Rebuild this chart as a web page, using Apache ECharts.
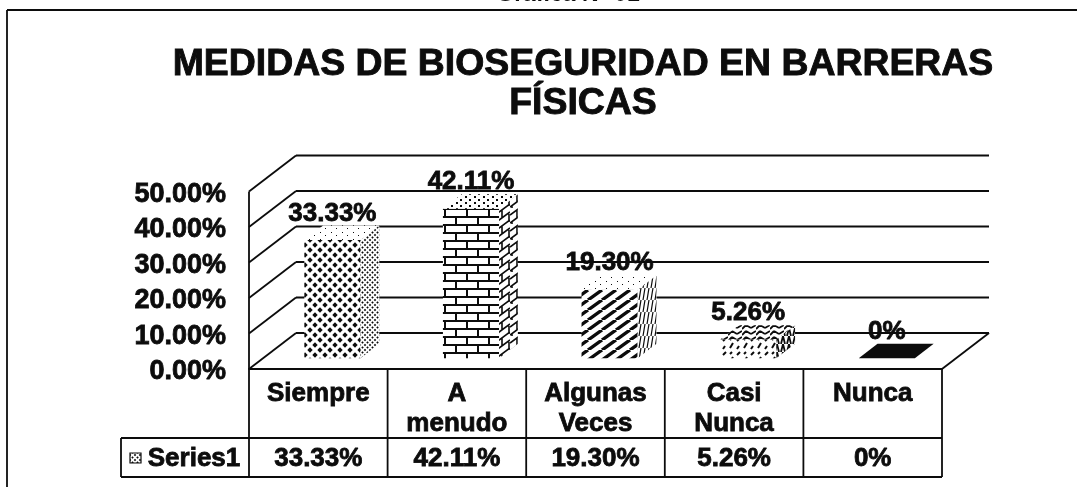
<!DOCTYPE html>
<html><head><meta charset="utf-8">
<style>html,body{margin:0;padding:0;background:#fff}#c{width:1077px;height:487px}</style>
<script src="https://cdn.jsdelivr.net/npm/echarts@6/dist/echarts.min.js"></script>
</head><body><div id="c"></div>
<script>
const chartTitle = 'MEDIDAS DE BIOSEGURIDAD EN BARRERAS\nFÍSICAS';
const pageHeading = 'Gráfica N° 01';
const categories = ['Siempre', 'A\nmenudo', 'Algunas\nVeces', 'Casi\nNunca', 'Nunca'];
const seriesName = 'Series1';
const values = [33.33, 42.11, 19.30, 5.26, 0];
const valueLabels = ['33.33%', '42.11%', '19.30%', '5.26%', '0%'];
const yTicks = [0, 10, 20, 30, 40, 50];

const INK = '#0c0c0c';
const FONT = '"Liberation Sans", Arial, sans-serif';

function tile(w, h, draw) {
  const c = document.createElement('canvas'); c.width = w; c.height = h;
  const g = c.getContext('2d');
  g.fillStyle = '#fff'; g.fillRect(0, 0, w, h);
  g.strokeStyle = INK; g.fillStyle = INK; draw(g);
  return { image: c, repeat: 'repeat' };
}
function seg(g, lw, pts) {
  g.lineWidth = lw; g.beginPath();
  pts.forEach(p => { g.moveTo(p[0], p[1]); g.lineTo(p[2], p[3]); });
  g.stroke();
}
function diamonds(g, s, k) {
  [[s/2, s/2], [0, 0], [s, 0], [0, s], [s, s]].forEach(p => {
    g.beginPath(); g.moveTo(p[0]-s*k, p[1]); g.lineTo(p[0], p[1]-s*k);
    g.lineTo(p[0]+s*k, p[1]); g.lineTo(p[0], p[1]+s*k); g.closePath(); g.fill();
  });
}
function specks(g, size, pts) { pts.forEach(p => g.fillRect(p[0], p[1], size, size)); }

const latticeFront = tile(10, 10, g => diamonds(g, 10, 0.27));
const latticeSide  = tile(5, 5, g => diamonds(g, 5, 0.25));
const lightTop     = tile(11, 7, g => specks(g, 1, [[1, 1], [6, 4]]));
const brickFront = tile(22, 16, g => seg(g, 2, [
  [0,1,22,1],[0,9,22,9],[5,1,5,9],[16,9,16,16],[16,0,16,1]]));
const brickSide = tile(15, 16, g => seg(g, 1.6, [
  [0,7,15,-4],[0,15,15,4],[0,23,15,12],[7,2,7,10],[14,6,14,14],[2,13,2,21]]));
const dotTop = tile(9, 6, g => specks(g, 2, [[1, 1], [6, 4]]));
const stripeFront = tile(14, 10, g => seg(g, 3.4, [
  [-14,10,0,0],[0,10,14,0],[14,10,28,0]]));
const stripeSide = tile(4, 12, g => seg(g, 1.2, [[-1,12,1,0],[3,12,5,0]]));
const dashFront = tile(14, 14, g => seg(g, 2, [[2,12,5,7],[9,5,12,2],[9,13,11,10],[2,4,4,2]]));
const zigSide = tile(6, 8, g => seg(g, 1.8, [[1,8,3,0],[5,8,3,0]]));
const zigTop = tile(14, 6, g => seg(g, 1.8, [[0,5,4,1],[4,1,9,4],[9,4,14,1]]));

const facePatterns = [
  { front: latticeFront, side: latticeSide, top: lightTop },
  { front: brickFront, side: brickSide, top: dotTop },
  { front: stripeFront, side: stripeSide, top: lightTop },
  { front: dashFront, side: zigSide, top: zigTop },
  { front: INK, side: INK, top: INK }
];

const DEPTH_X = 47, DEPTH_Y = 36;
const NEAR = 0.3, FAR = 0.7;
const BAR_FRACTION = 0.405;
const LINE = { stroke: INK, lineWidth: 1.8, fill: null };

function line(x1, y1, x2, y2) {
  return { type: 'line', shape: { x1, y1, x2, y2 }, style: LINE, silent: true };
}
function poly(points, fill) {
  return { type: 'polygon', shape: { points }, style: { fill, stroke: null }, silent: true };
}
function label(text, x, y) {
  return { type: 'text', silent: true, z2: 20, style: {
    text, x, y, align: 'center', verticalAlign: 'middle', fill: INK,
    font: 'bold 26px ' + FONT, stroke: INK, lineWidth: 0.8 } };
}

function renderWall(params, api) {
  const cs = params.coordSys, v = api.value(0);
  const y = api.coord([0, v])[1];
  const left = cs.x, right = cs.x + cs.width;
  const kids = [ line(left, y, left + DEPTH_X, y - DEPTH_Y),
                 line(left + DEPTH_X, y - DEPTH_Y, right + DEPTH_X, y - DEPTH_Y) ];
  if (v === 0) kids.push(line(right, y, right + DEPTH_X, y - DEPTH_Y));
  if (v === yTicks[yTicks.length - 1]) kids.push(line(left, y, left, api.coord([0, 0])[1]));
  return { type: 'group', children: kids };
}

function renderBar(params, api) {
  const i = api.value(0), v = api.value(1);
  const band = api.size([1, 0])[0], w = band * BAR_FRACTION;
  const base = api.coord([i, 0]), top = api.coord([i, v]);
  const x0 = base[0] - w / 2 + NEAR * DEPTH_X, x1 = x0 + w;
  const yB = base[1] - NEAR * DEPTH_Y, yT = top[1] - NEAR * DEPTH_Y;
  const dx = (FAR - NEAR) * DEPTH_X, dy = (FAR - NEAR) * DEPTH_Y;
  const p = facePatterns[params.dataIndex];
  return { type: 'group', children: [
    poly([[x0, yB], [x1, yB], [x1, yT], [x0, yT]], p.front),
    poly([[x1, yB], [x1 + dx, yB - dy], [x1 + dx, yT - dy], [x1, yT]], p.side),
    poly([[x0, yT], [x1, yT], [x1 + dx, yT - dy], [x0 + dx, yT - dy]], p.top),
    label(valueLabels[params.dataIndex], x0 + w / 2, yT - dy - 12)
  ]};
}

function renderTable(params, api) {
  const cs = params.coordSys, band = api.size([1, 0])[0];
  const floor = cs.y + cs.height, left = cs.x, right = cs.x + cs.width;
  const rowTop = floor + 69, rowBottom = floor + 108, keyLeft = left - 128;
  const kids = [
    line(keyLeft, rowTop, right, rowTop), line(keyLeft, rowBottom, right, rowBottom),
    line(keyLeft, rowTop, keyLeft, rowBottom),
    line(7, 10, 1077, 10), line(7, 10, 7, 487)
  ];
  for (let k = 0; k <= categories.length; k++) {
    const x = left + k * band;
    kids.push(line(x, floor, x, rowBottom));
  }
  categories.forEach((_, k) => kids.push(label(valueLabels[k], left + (k + .5) * band, rowTop + 21)));
  kids.push({ type: 'rect', shape: { x: keyLeft + 9, y: rowTop + 15, width: 11, height: 10 },
    style: { fill: latticeSide, stroke: INK, lineWidth: 1.2 }, silent: true });
  kids.push(label(seriesName, keyLeft + 73, rowTop + 21));
  return { type: 'group', children: kids };
}

const chart = echarts.init(document.getElementById('c'), null, { renderer: 'canvas' });
chart.setOption({
  animation: false,
  backgroundColor: '#fff',
  title: [
    { text: pageHeading, left: 563, top: -22, textAlign: 'center',
      textStyle: { fontFamily: FONT, fontWeight: 'bold', fontSize: 23, color: INK } },
    { text: chartTitle, left: 578, top: 40, textAlign: 'center',
      textStyle: { fontFamily: FONT, fontWeight: 'bold', fontSize: 37.4, lineHeight: 39, color: INK,
        textBorderColor: INK, textBorderWidth: 0.9 } }
  ],
  grid: { left: 249, right: 135, top: 191.5, bottom: 118 },
  xAxis: {
    type: 'category', data: categories,
    axisLine: { show: true, lineStyle: { color: INK, width: 1.8 } },
    axisTick: { show: false }, splitLine: { show: false },
    axisLabel: { interval: 0, margin: 10, fontFamily: FONT, fontWeight: 'bold', fontSize: 26,
      lineHeight: 30, color: INK, verticalAlign: 'top',
      textBorderColor: INK, textBorderWidth: 0.8 }
  },
  yAxis: {
    type: 'value', min: 0, max: 50, interval: 10,
    axisLine: { show: false }, axisTick: { show: false }, splitLine: { show: false },
    axisLabel: { margin: 23, fontFamily: FONT, fontWeight: 'bold', fontSize: 27, color: INK,
      verticalAlign: 'top', lineHeight: 6,
      textBorderColor: INK, textBorderWidth: 0.8,
      formatter: v => v.toFixed(2) + '%' }
  },
  series: [
    { type: 'custom', name: 'wall', z: 1, data: yTicks.map(v => [v]),
      encode: { y: 0 }, renderItem: renderWall, silent: true },
    { type: 'custom', name: 'table', z: 2, data: [[0, 0]],
      encode: { x: 0, y: 1 }, renderItem: renderTable, silent: true },
    { type: 'custom', name: seriesName, z: 3, data: values.map((v, i) => [i, v]),
      encode: { x: 0, y: 1 }, renderItem: renderBar, silent: true }
  ]
});
</script></body></html>
